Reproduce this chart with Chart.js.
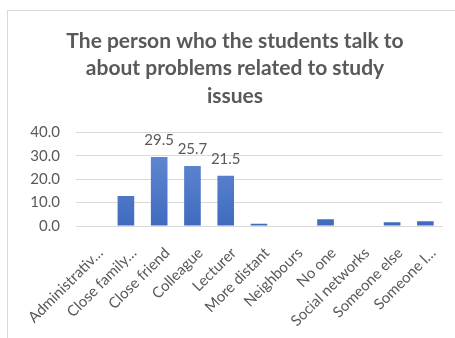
<!DOCTYPE html>
<html>
<head>
<meta charset="utf-8">
<script src="https://cdn.jsdelivr.net/npm/chart.js@4/dist/chart.umd.min.js"></script>
<style>
    html, body { margin: 0; padding: 0; background: #fff; overflow: hidden; }
    #frame {
        position: absolute; left: 7px; top: 10px; width: 460px; height: 340px;
        border-left: 1px solid #d9d9d9; border-top: 1px solid #d9d9d9;
    }
    #wrap { position: absolute; left: 0; top: 0; width: 455px; height: 338px; overflow: hidden; }
</style>
</head>
<body>
<div id="frame"></div>
<div id="wrap"><canvas id="studyChart" width="470" height="338"></canvas></div>
<script>
// Categories and percentages
const categories = [
    "Administrativ\u2026", "Close family\u2026", "Close friend", "Colleague", "Lecturer",
    "More distant", "Neighbours", "No one", "Social networks", "Someone else", "Someone l\u2026"
];
const percentages = [0, 12.8, 29.5, 25.7, 21.5, 1.0, 0, 2.9, 0, 1.6, 2.0];
// only these bars carry a value label
const labelledBars = [2, 3, 4];
const yTicks = [0, 10, 20, 30, 40];

const grey = "#595959";
const fontFamily = "Lato, 'Open Sans', sans-serif";

// draw value labels above selected bars
const valueLabels = {
    id: "valueLabels",
    afterDatasetsDraw(chart) {
        const ctx = chart.ctx;
        const meta = chart.getDatasetMeta(0);
        ctx.save();
        ctx.font = "15px " + fontFamily;
        ctx.fillStyle = grey;
        ctx.textAlign = "center";
        ctx.textBaseline = "alphabetic";
        labelledBars.forEach(function (i) {
            const bar = meta.data[i];
            ctx.fillText(percentages[i].toFixed(1), bar.x, bar.y - 12);
        });
        ctx.restore();
    }
};

function barFill(context) {
    const area = context.chart.chartArea;
    if (!area) return "#4a76c6";
    const g = context.chart.ctx.createLinearGradient(0, area.top, 0, area.bottom);
    g.addColorStop(0, "#6b8fd6");
    g.addColorStop(1, "#3f6bbf");
    return g;
}

const ctx = document.getElementById("studyChart").getContext("2d");
new Chart(ctx, {
    type: "bar",
    data: {
        labels: categories,
        datasets: [{
            data: percentages,
            backgroundColor: barFill,
            borderWidth: 0,
            barPercentage: 0.5,
            categoryPercentage: 1.0
        }]
    },
    options: {
        responsive: false,
        animation: false,
        // side padding keeps the title centred on the framed area
        layout: { padding: { left: 28, right: 28, top: 0, bottom: 0 } },
        plugins: {
            legend: { display: false },
            tooltip: { enabled: false },
            title: {
                display: true,
                text: ["The person who the students talk to", "about problems related to study", "issues"],
                color: grey,
                font: { family: fontFamily, size: 21, weight: "bold", lineHeight: 1.31 },
                padding: { top: 27, bottom: 23 }
            }
        },
        scales: {
            x: {
                grid: { display: false },
                border: { display: true, color: "#d9d9d9" },
                ticks: {
                    color: grey,
                    font: { family: fontFamily, size: 15 },
                    autoSkip: false,
                    maxRotation: 45,
                    minRotation: 45,
                    padding: 10,
                    labelOffset: 8
                },
                afterFit(scale) { scale.height = 112; }
            },
            y: {
                min: 0,
                max: 40,
                afterBuildTicks(scale) { scale.ticks = yTicks.map(v => ({ value: v })); },
                grid: { color: "#d9d9d9", drawTicks: false },
                border: { display: false },
                ticks: {
                    color: grey,
                    font: { family: fontFamily, size: 15 },
                    padding: 16,
                    callback: v => v.toFixed(1)
                },
                afterFit(scale) { scale.width = 48; }
            }
        }
    },
    plugins: [valueLabels]
});
</script>
</body>
</html>
